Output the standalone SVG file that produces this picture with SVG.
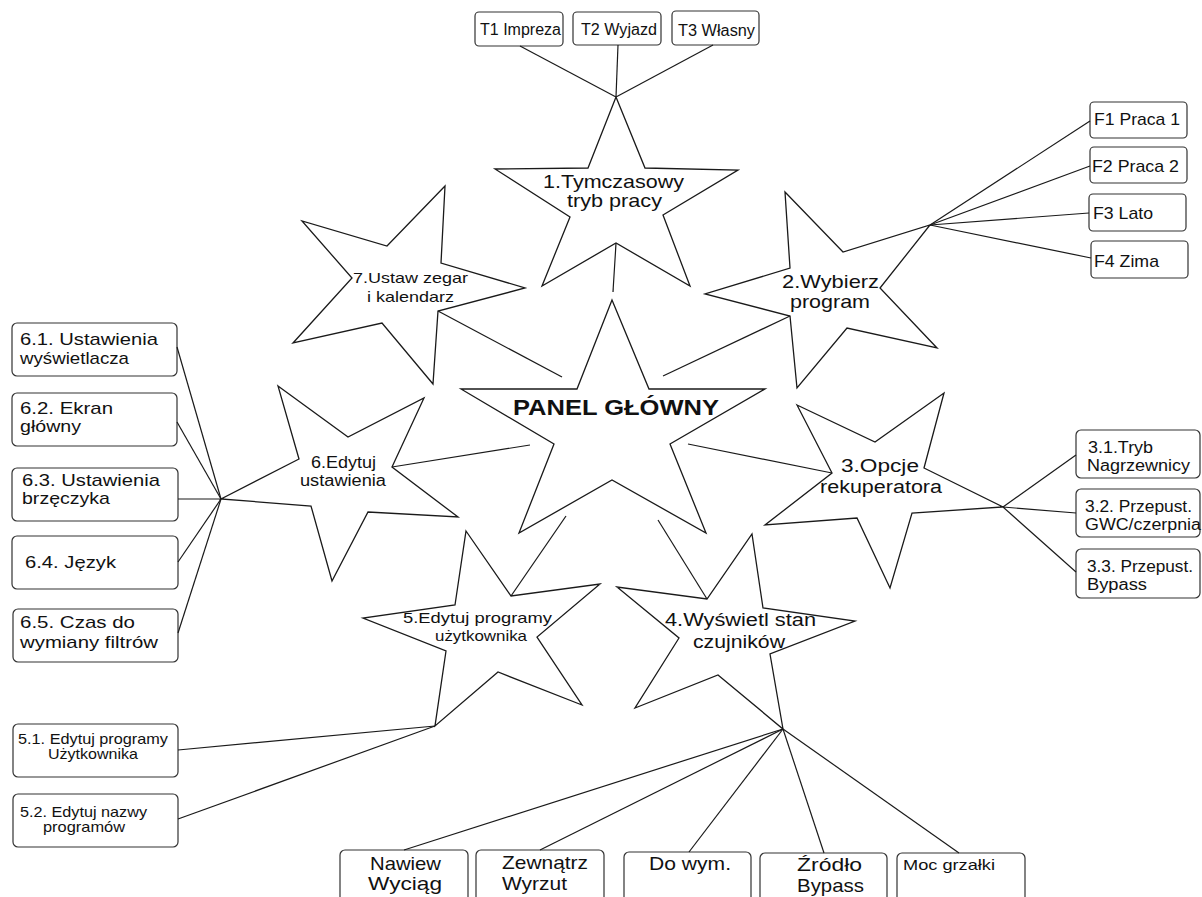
<svg xmlns="http://www.w3.org/2000/svg" width="1202" height="897" viewBox="0 0 1202 897">
<style>
.star{fill:#fff;stroke:#1a1a1a;stroke-width:1.3;stroke-linejoin:miter}
.box{fill:#fff;stroke:#333;stroke-width:1.2}
.t{font-family:"Liberation Sans",Arial,sans-serif;fill:#111}
.conn line{stroke:#1a1a1a;stroke-width:1.2}
</style>
<rect width="1202" height="897" fill="#fff"/>

<g id="star1">
<polygon class="star" points="616,97 645,168 738,170 663,215 690,286 616,243 542,286 570,217 495,169 588,168"/>
<text class="t" font-size="19" x="543" y="188" textLength="141" lengthAdjust="spacingAndGlyphs">1.Tymczasowy</text>
<text class="t" font-size="19" x="567" y="207" textLength="95" lengthAdjust="spacingAndGlyphs">tryb pracy</text>
</g>
<g id="star2">
<polygon class="star" points="785,192 843,252 930,225 880,288 937,348 847,328 797,388 790,316 705,294 790,268"/>
<text class="t" font-size="19" x="782" y="288" textLength="97" lengthAdjust="spacingAndGlyphs">2.Wybierz</text>
<text class="t" font-size="19" x="790" y="308" textLength="80" lengthAdjust="spacingAndGlyphs">program</text>
</g>
<g id="star3">
<polygon class="star" points="797,405 875,442 944,393 924,468 1003,507 912,513 890,588 857,518 765,525 832,473"/>
<text class="t" font-size="18" x="841" y="472" textLength="78" lengthAdjust="spacingAndGlyphs">3.Opcje</text>
<text class="t" font-size="18" x="820" y="493" textLength="122" lengthAdjust="spacingAndGlyphs">rekuperatora</text>
</g>
<g id="star4">
<polygon class="star" points="752,534 763,608 855,621 770,654 783,729 718,675 635,708 679,638 617,587 707,599"/>
<text class="t" font-size="17.5" x="665" y="626" textLength="151" lengthAdjust="spacingAndGlyphs">4.Wyświetl stan</text>
<text class="t" font-size="17.5" x="693" y="648" textLength="92" lengthAdjust="spacingAndGlyphs">czujników</text>
</g>
<g id="star5">
<polygon class="star" points="466,531 511,596 600,584 537,637 582,705 498,672 435,726 446,651 363,618 455,605"/>
<text class="t" font-size="15" x="403" y="623" textLength="149" lengthAdjust="spacingAndGlyphs">5.Edytuj programy</text>
<text class="t" font-size="15" x="435" y="641" textLength="92" lengthAdjust="spacingAndGlyphs">użytkownika</text>
</g>
<g id="star6">
<polygon class="star" points="278,386 348,437 424,398 392,467 458,517 368,512 332,581 311,506 221,499 299,459"/>
<text class="t" font-size="16" x="311" y="468" textLength="65" lengthAdjust="spacingAndGlyphs">6.Edytuj</text>
<text class="t" font-size="16" x="300" y="486" textLength="86" lengthAdjust="spacingAndGlyphs">ustawienia</text>
</g>
<g id="star7">
<polygon class="star" points="445,186 441,263 525,288 438,311 433,384 382,323 293,343 352,278 302,221 387,246"/>
<text class="t" font-size="15" x="353" y="283" textLength="115" lengthAdjust="spacingAndGlyphs">7.Ustaw zegar</text>
<text class="t" font-size="15" x="367" y="302" textLength="87" lengthAdjust="spacingAndGlyphs">i kalendarz</text>
</g>
<g id="panel">
<polygon class="star" points="612,300 649,389 765,389 670,444 706,533 612,480 519,533 554,444 461,389 577,389"/>
<text class="t" font-size="21.5" font-weight="bold" x="513" y="415" textLength="206" lengthAdjust="spacingAndGlyphs">PANEL GŁÓWNY</text>
</g>

<g id="T1"><rect class="box" x="475" y="12" width="88" height="34" rx="4"/><text class="t" font-size="16" x="480" y="35" textLength="81" lengthAdjust="spacingAndGlyphs">T1 Impreza</text></g>
<g id="T2"><rect class="box" x="573" y="12" width="88" height="33" rx="4"/><text class="t" font-size="16" x="581" y="35" textLength="76" lengthAdjust="spacingAndGlyphs">T2 Wyjazd</text></g>
<g id="T3"><rect class="box" x="672" y="11" width="87" height="34" rx="4"/><text class="t" font-size="16" x="678" y="36" textLength="77" lengthAdjust="spacingAndGlyphs">T3 Własny</text></g>

<g id="F1"><rect class="box" x="1090" y="102" width="97" height="36" rx="4"/><text class="t" font-size="17" x="1094" y="125" textLength="86" lengthAdjust="spacingAndGlyphs">F1 Praca 1</text></g>
<g id="F2"><rect class="box" x="1090" y="147" width="97" height="36" rx="4"/><text class="t" font-size="17" x="1092" y="172" textLength="87" lengthAdjust="spacingAndGlyphs">F2 Praca 2</text></g>
<g id="F3"><rect class="box" x="1089" y="194" width="97" height="37" rx="4"/><text class="t" font-size="17" x="1093" y="219" textLength="60" lengthAdjust="spacingAndGlyphs">F3 Lato</text></g>
<g id="F4"><rect class="box" x="1091" y="241" width="97" height="37" rx="4"/><text class="t" font-size="17" x="1094" y="267" textLength="65" lengthAdjust="spacingAndGlyphs">F4 Zima</text></g>

<g id="B31"><rect class="box" x="1076" y="430" width="124" height="48" rx="5"/><text class="t" font-size="16" x="1088" y="453" textLength="65" lengthAdjust="spacingAndGlyphs">3.1.Tryb</text><text class="t" font-size="16" x="1087" y="471" textLength="103" lengthAdjust="spacingAndGlyphs">Nagrzewnicy</text></g>
<g id="B32"><rect class="box" x="1076" y="489" width="124" height="48" rx="5"/><text class="t" font-size="16" x="1085" y="512" textLength="107" lengthAdjust="spacingAndGlyphs">3.2. Przepust.</text><text class="t" font-size="16" x="1085" y="530" textLength="116" lengthAdjust="spacingAndGlyphs">GWC/czerpnia</text></g>
<g id="B33"><rect class="box" x="1076" y="549" width="124" height="49" rx="5"/><text class="t" font-size="16" x="1087" y="572" textLength="106" lengthAdjust="spacingAndGlyphs">3.3. Przepust.</text><text class="t" font-size="16" x="1087" y="590" textLength="60" lengthAdjust="spacingAndGlyphs">Bypass</text></g>

<g id="B61"><rect class="box" x="12" y="323" width="165" height="53" rx="5"/><text class="t" font-size="17" x="20" y="345" textLength="138" lengthAdjust="spacingAndGlyphs">6.1. Ustawienia</text><text class="t" font-size="17" x="20" y="364" textLength="109" lengthAdjust="spacingAndGlyphs">wyświetlacza</text></g>
<g id="B62"><rect class="box" x="12" y="393" width="165" height="53" rx="5"/><text class="t" font-size="17" x="20" y="414" textLength="93" lengthAdjust="spacingAndGlyphs">6.2. Ekran</text><text class="t" font-size="17" x="20" y="432" textLength="61" lengthAdjust="spacingAndGlyphs">główny</text></g>
<g id="B63"><rect class="box" x="12" y="468" width="166" height="53" rx="5"/><text class="t" font-size="17" x="22" y="486" textLength="138" lengthAdjust="spacingAndGlyphs">6.3. Ustawienia</text><text class="t" font-size="17" x="22" y="504" textLength="88" lengthAdjust="spacingAndGlyphs">brzęczyka</text></g>
<g id="B64"><rect class="box" x="12" y="536" width="166" height="53" rx="5"/><text class="t" font-size="17" x="25" y="568" textLength="91" lengthAdjust="spacingAndGlyphs">6.4. Język</text></g>
<g id="B65"><rect class="box" x="13" y="609" width="165" height="53" rx="5"/><text class="t" font-size="17" x="20" y="628" textLength="115" lengthAdjust="spacingAndGlyphs">6.5. Czas do</text><text class="t" font-size="17" x="20" y="648" textLength="138" lengthAdjust="spacingAndGlyphs">wymiany filtrów</text></g>

<g id="B51"><rect class="box" x="13" y="724" width="165" height="53" rx="5"/><text class="t" font-size="14.5" x="18" y="744" textLength="150" lengthAdjust="spacingAndGlyphs">5.1. Edytuj programy</text><text class="t" font-size="14.5" x="48" y="759" textLength="90" lengthAdjust="spacingAndGlyphs">Użytkownika</text></g>
<g id="B52"><rect class="box" x="13" y="794" width="165" height="53" rx="5"/><text class="t" font-size="14.5" x="20" y="817" textLength="127" lengthAdjust="spacingAndGlyphs">5.2. Edytuj nazwy</text><text class="t" font-size="14.5" x="43" y="832" textLength="82" lengthAdjust="spacingAndGlyphs">programów</text></g>

<g id="S1"><rect class="box" x="340" y="850" width="128" height="60" rx="5"/><text class="t" font-size="19" x="370" y="870" textLength="71" lengthAdjust="spacingAndGlyphs">Nawiew</text><text class="t" font-size="19" x="368" y="890" textLength="74" lengthAdjust="spacingAndGlyphs">Wyciąg</text></g>
<g id="S2"><rect class="box" x="476" y="850" width="128" height="60" rx="5"/><text class="t" font-size="19" x="502" y="869" textLength="86" lengthAdjust="spacingAndGlyphs">Zewnątrz</text><text class="t" font-size="19" x="502" y="890" textLength="65" lengthAdjust="spacingAndGlyphs">Wyrzut</text></g>
<g id="S3"><rect class="box" x="624" y="852" width="127" height="60" rx="5"/><text class="t" font-size="19" x="649" y="870" textLength="82" lengthAdjust="spacingAndGlyphs">Do wym.</text></g>
<g id="S4"><rect class="box" x="760" y="853" width="127" height="60" rx="5"/><text class="t" font-size="19" x="797" y="871" textLength="65" lengthAdjust="spacingAndGlyphs">Źródło</text><text class="t" font-size="19" x="797" y="892" textLength="67" lengthAdjust="spacingAndGlyphs">Bypass</text></g>
<g id="S5"><rect class="box" x="897" y="853" width="128" height="60" rx="5"/><text class="t" font-size="15" x="903" y="870" textLength="92" lengthAdjust="spacingAndGlyphs">Moc grzałki</text></g>

<g class="conn" id="connectors">
<line x1="616" y1="243" x2="613" y2="292"/>
<line x1="438" y1="311" x2="562" y2="377"/>
<line x1="790" y1="316" x2="663" y2="376"/>
<line x1="392" y1="467" x2="530" y2="445"/>
<line x1="832" y1="473" x2="688" y2="444"/>
<line x1="511" y1="596" x2="566" y2="516"/>
<line x1="707" y1="599" x2="658" y2="520"/>
<line x1="616" y1="97" x2="520" y2="46"/>
<line x1="616" y1="97" x2="618" y2="45"/>
<line x1="616" y1="97" x2="713" y2="45"/>
<line x1="930" y1="225" x2="1090" y2="121"/>
<line x1="930" y1="225" x2="1090" y2="166"/>
<line x1="930" y1="225" x2="1089" y2="213"/>
<line x1="930" y1="225" x2="1091" y2="258"/>
<line x1="1003" y1="507" x2="1076" y2="455"/>
<line x1="1003" y1="507" x2="1076" y2="513"/>
<line x1="1003" y1="507" x2="1076" y2="572"/>
<line x1="221" y1="499" x2="177" y2="347"/>
<line x1="221" y1="499" x2="177" y2="422"/>
<line x1="221" y1="499" x2="178" y2="499"/>
<line x1="221" y1="499" x2="178" y2="562"/>
<line x1="221" y1="499" x2="178" y2="633"/>
<line x1="435" y1="726" x2="178" y2="750"/>
<line x1="435" y1="726" x2="178" y2="819"/>
<line x1="783" y1="729" x2="404" y2="850"/>
<line x1="783" y1="729" x2="540" y2="850"/>
<line x1="783" y1="729" x2="689" y2="852"/>
<line x1="783" y1="729" x2="824" y2="853"/>
<line x1="783" y1="729" x2="959" y2="853"/>
</g>
</svg>
